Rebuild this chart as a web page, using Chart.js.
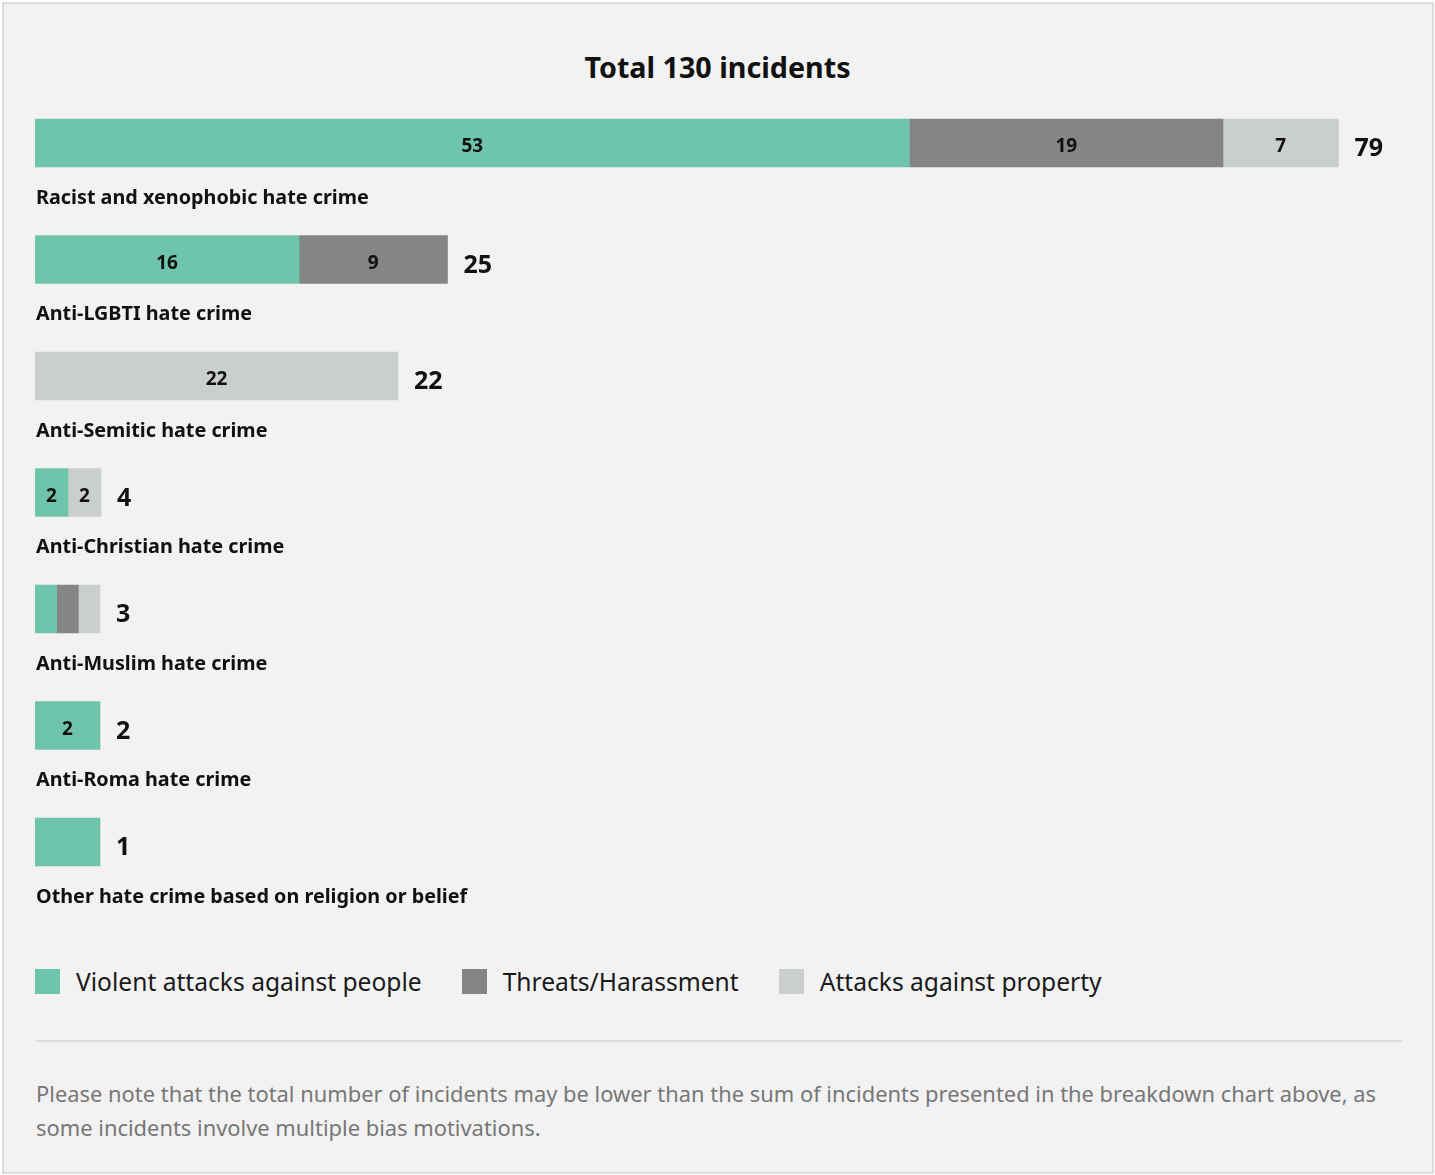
<!DOCTYPE html>
<html><head><meta charset="utf-8">
<script src="https://cdn.jsdelivr.net/npm/chart.js@4/dist/chart.umd.min.js"></script>
<style>
html,body{margin:0;padding:0;background:#fff;}
body{width:1435px;height:1175px;position:relative;overflow:hidden;font-family:"Noto Sans",sans-serif;}
#card{position:absolute;left:2px;top:2px;width:1428px;height:1168px;border:2px solid #dcdcdc;background:#f2f2f2;}
#title{position:absolute;left:0;width:1435px;top:47px;text-align:center;font-weight:bold;font-size:28.7px;line-height:40px;color:#111;}
#wrap{position:absolute;left:0;top:0;width:1435px;height:940px;}
#legend{position:absolute;left:35px;top:961px;height:40px;display:flex;align-items:center;font-size:24.6px;color:#1a1a1a;}
#legend .it{display:flex;align-items:center;margin-right:40px;}
#legend .sw{width:25px;height:25px;margin-right:16px;}
#sep{position:absolute;left:36px;width:1366px;top:1040px;height:2px;background:#dcdcdc;}
#note{position:absolute;left:36px;width:1370px;top:1077px;font-size:21.9px;line-height:34px;color:#777;}
</style></head>
<body>
<div id="card"></div>
<div id="title"></div>
<div id="wrap"><canvas id="c" width="1435" height="940"></canvas></div>
<div id="legend"></div>
<div id="sep"></div>
<div id="note">Please note that the total number of incidents may be lower than the sum of incidents presented in the breakdown chart above, as some incidents involve multiple bias motivations.</div>
<script>
const categories = ["Racist and xenophobic hate crime","Anti-LGBTI hate crime","Anti-Semitic hate crime","Anti-Christian hate crime","Anti-Muslim hate crime","Anti-Roma hate crime","Other hate crime based on religion or belief"];
const seriesNames = ["Violent attacks against people","Threats/Harassment","Attacks against property"];
const violent = [53,16,0,2,1,2,1];
const threats = [19,9,0,0,1,0,0];
const property = [7,0,22,2,1,0,0];
const totals = [79,25,22,4,3,2,1];
const totalIncidents = 130;
const colors = ["#6fc4ac","#858585","#cacecd"];
const MIN_UNITS = 3.94;

document.getElementById('title').textContent = 'Total ' + totalIncidents + ' incidents';
const lg = document.getElementById('legend');
seriesNames.forEach((n,i)=>{
  const d=document.createElement('div');d.className='it';
  d.innerHTML='<div class="sw" style="background:'+colors[i]+'"></div><span>'+n+'</span>';
  lg.appendChild(d);
});

const series=[violent,threats,property];
const scaleF = totals.map(t=>Math.max(1, MIN_UNITS/t));
const datasets = series.map((s,i)=>({
  label: seriesNames[i],
  data: s.map((v,j)=> v>0 ? v*scaleF[j] : null),
  realData: s,
  backgroundColor: colors[i],
  borderWidth: 0,
  barThickness: 48
}));

const F = '"Noto Sans", sans-serif';
const labelsPlugin = {
  id:'lbl',
  afterDatasetsDraw(chart){
    const ctx=chart.ctx;
    ctx.save();
    ctx.textBaseline='middle';
    chart.data.datasets.forEach((ds,di)=>{
      const meta=chart.getDatasetMeta(di);
      meta.data.forEach((el,j)=>{
        const v=ds.realData[j];
        if(v>1){
          ctx.fillStyle='#111';
          ctx.font='bold 19px '+F;
          ctx.textAlign='center';
          ctx.fillText(String(v),(el.x+el.base)/2,el.y+4);
        }
      });
    });
    const m0=chart.getDatasetMeta(0);
    categories.forEach((c,j)=>{
      let maxX=0;
      chart.data.datasets.forEach((ds,di)=>{
        const el=chart.getDatasetMeta(di).data[j];
        if(ds.data[j]!=null) maxX=Math.max(maxX,el.x);
      });
      const y=m0.data[j].y;
      ctx.fillStyle='#111';
      ctx.textAlign='left';
      ctx.font='bold 25px '+F;
      ctx.fillText(String(totals[j]),maxX+16,y+6);
      ctx.font='bold 19.8px '+F;
      ctx.fillText(c,36,y+55);
    });
    ctx.restore();
  }
};

new Chart(document.getElementById('c'),{
  type:'bar',
  data:{labels:categories,datasets},
  options:{
    indexAxis:'y',
    responsive:false,
    animation:false,
    layout:{padding:{left:35,right:35,top:84.75,bottom:39.75}},
    plugins:{legend:{display:false},title:{display:false},tooltip:{enabled:false}},
    scales:{
      x:{stacked:true,min:0,max:(1400-35)/16.5,display:false},
      y:{stacked:true,display:false}
    }
  },
  plugins:[labelsPlugin]
});
</script>
</body></html>
